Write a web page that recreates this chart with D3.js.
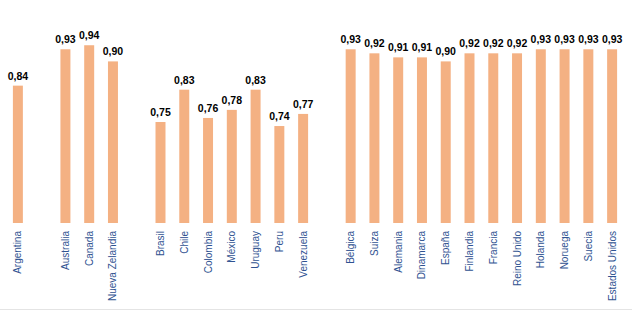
<!DOCTYPE html>
<html>
<head>
<meta charset="utf-8">
<script src="https://cdn.jsdelivr.net/npm/d3@7"></script>
<style>
  body { margin: 0; background: #fff; }
  svg { display: block; }
</style>
</head>
<body>
<svg id="chart" width="632" height="321"></svg>
<script>
// countries, with empty slots ("" keys) separating the three groups
const countries = [
  'Argentina', '_gap1',
  'Australia', 'Canada', 'Nueva Zelandia', '_gap2',
  'Brasil', 'Chile', 'Colombia', 'México', 'Uruguay', 'Peru', 'Venezuela', '_gap3',
  'Bélgica', 'Suiza', 'Alemania', 'Dinamarca', 'España', 'Finlandia', 'Francia',
  'Reino Unido', 'Holanda', 'Noruega', 'Suecia', 'Estados Unidos'
];
const values = [
  0.84, null,
  0.93, 0.94, 0.90, null,
  0.75, 0.83, 0.76, 0.78, 0.83, 0.74, 0.77, null,
  0.93, 0.92, 0.91, 0.91, 0.90, 0.92, 0.92,
  0.92, 0.93, 0.93, 0.93, 0.93
];
const yDomain = [0.5, 1.0];

const svg = d3.select('#chart');
const fmt = v => d3.format('.2f')(v).replace('.', ',');

const x = d3.scaleBand()
  .domain(countries)
  .range([6, 624])
  .paddingInner(0.58)
  .paddingOuter(0.29);

const y = d3.scaleLinear()
  .domain(yDomain)
  .range([223, 21]);

const rows = countries
  .map((c, i) => ({ name: c, value: values[i] }))
  .filter(d => d.value !== null);

// bottom rule
svg.append('line')
  .attr('x1', 0).attr('x2', 632)
  .attr('y1', 309.5).attr('y2', 309.5)
  .attr('stroke', '#e4e4e4')
  .attr('stroke-width', 1);

svg.selectAll('rect.bar')
  .data(rows)
  .enter().append('rect')
  .attr('class', 'bar')
  .attr('x', d => x(d.name))
  .attr('width', x.bandwidth())
  .attr('y', d => y(d.value))
  .attr('height', d => y(yDomain[0]) - y(d.value))
  .attr('fill', '#F4B183');

svg.selectAll('text.val')
  .data(rows)
  .enter().append('text')
  .attr('class', 'val')
  .attr('x', d => x(d.name) + x.bandwidth() / 2)
  .attr('y', d => y(d.value) - 6)
  .attr('text-anchor', 'middle')
  .style('font-family', 'Liberation Sans, Arial, sans-serif')
  .style('font-size', '10.5px')
  .style('font-weight', 'bold')
  .style('fill', '#000')
  .text(d => fmt(d.value));

svg.selectAll('text.cat')
  .data(rows)
  .enter().append('text')
  .attr('class', 'cat')
  .attr('transform', d => `translate(${x(d.name) + x.bandwidth() / 2 + 3.5},231) rotate(-90)`)
  .attr('text-anchor', 'end')
  .style('font-family', 'Liberation Sans, Arial, sans-serif')
  .style('font-size', '10px')
  .style('fill', '#2F5291')
  .text(d => d.name);
</script>
</body>
</html>
